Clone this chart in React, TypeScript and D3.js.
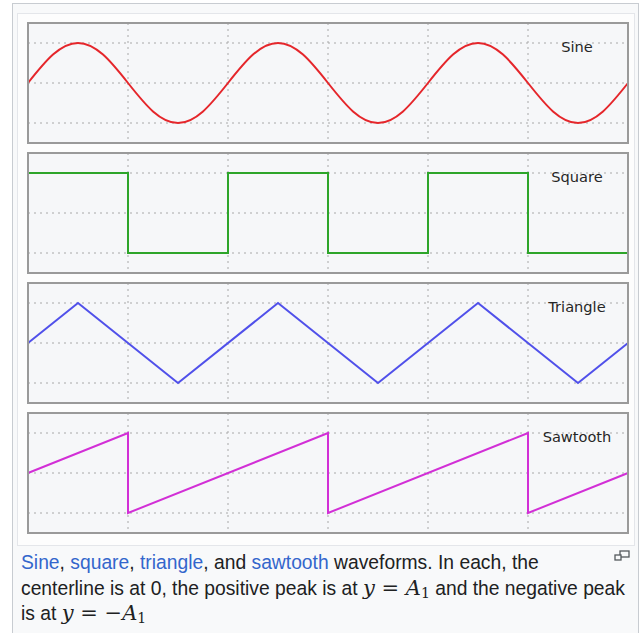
import React from 'react';
import * as d3 from 'd3';

// Time axis in half-period units (0..6), amplitude in units of A1
const sineX = [0, 0.25, 0.5, 0.75, 1, 1.25, 1.5, 1.75, 2, 2.25, 2.5, 2.75, 3, 3.25, 3.5, 3.75, 4, 4.25, 4.5, 4.75, 5, 5.25, 5.5, 5.75, 6];
const sineY = [0, 0.71, 1, 0.71, 0, -0.71, -1, -0.71, 0, 0.71, 1, 0.71, 0, -0.71, -1, -0.71, 0, 0.71, 1, 0.71, 0, -0.71, -1, -0.71, 0];
const squareX = [0, 1, 1, 2, 2, 3, 3, 4, 4, 5, 5, 6];
const squareY = [1, 1, -1, -1, 1, 1, -1, -1, 1, 1, -1, -1];
const triangleX = [0, 0.5, 1.5, 2.5, 3.5, 4.5, 5.5, 6];
const triangleY = [0, 1, -1, 1, -1, 1, -1, 0];
const sawX = [0, 1, 1, 3, 3, 5, 5, 6];
const sawY = [0, 1, -1, 1, -1, 1, -1, 0];

const labels = ['Sine', 'Square', 'Triangle', 'Sawtooth'];
const colors = ['#e5262b', '#2ea52a', '#5050ea', '#d22fd6'];
const xTicks = [1, 2, 3, 4, 5];
const yTicks = [-1, 0, 1];

const series = [
  { xs: sineX, ys: sineY, smooth: true },
  { xs: squareX, ys: squareY, smooth: false },
  { xs: triangleX, ys: triangleY, smooth: false },
  { xs: sawX, ys: sawY, smooth: false },
];

const W = 642, H = 633;
const panelLeft = 28, panelWidth = 600, panelHeight = 120, panelTop0 = 23, panelStep = 130;

export default function App() {
  const x = d3.scaleLinear().domain([0, 6]).range([panelLeft, panelLeft + panelWidth]);
  const linkColor = '#3366cc';
  const textColor = '#202122';
  const mathFont = '"DejaVu Serif", "Liberation Serif", serif';
  const mfs = 21;
  return (
    <svg width={W} height={H} style={{ position: 'absolute', left: 0, top: 0, background: '#ffffff' }}>
      <rect x={12.5} y={3.5} width={626} height={640} fill="#f8f9fa" stroke="#c8ccd1" />
      <rect x={17.5} y={13.5} width={617} height={532} fill="#fdfdfd" stroke="#e4e6ea" />
      {series.map((s, i) => {
        const top = panelTop0 + i * panelStep;
        const y = d3.scaleLinear().domain([-1.5, 1.5]).range([top + panelHeight, top]);
        const pts: [number, number][] = s.xs.map((v, k) => [x(v), y(s.ys[k])]);
        const line = d3.line().curve(s.smooth ? d3.curveNatural : d3.curveLinear);
        return (
          <g key={i}>
            <rect x={panelLeft} y={top} width={panelWidth} height={panelHeight} fill="#f6f7f9" />
            {yTicks.map((t) => (
              <line key={'h' + t} x1={panelLeft} x2={panelLeft + panelWidth} y1={y(t)} y2={y(t)}
                stroke="#a8a8a8" strokeWidth={1} strokeDasharray="2,4" />
            ))}
            {xTicks.map((t) => (
              <line key={'v' + t} x1={x(t)} x2={x(t)} y1={top} y2={top + panelHeight}
                stroke="#a8a8a8" strokeWidth={1} strokeDasharray="2,4" />
            ))}
            <path d={line(pts) || ''} fill="none" stroke={colors[i]} strokeWidth={2} strokeLinejoin="miter" />
            <rect x={panelLeft} y={top} width={panelWidth} height={panelHeight} fill="none" stroke="#9a9a9a" strokeWidth={2} />
            <text x={577} y={top + 28.5} textAnchor="middle" fontFamily='"DejaVu Sans", sans-serif' fontSize={14.6} fill="#262626">
              {labels[i]}
            </text>
          </g>
        );
      })}
      <g fontFamily='"Liberation Sans", Arial, sans-serif' fontSize={19.3} fill={textColor}>
        <text x={21} y={569}>
          <tspan fill={linkColor}>Sine</tspan>, <tspan fill={linkColor}>square</tspan>, <tspan fill={linkColor}>triangle</tspan>, and <tspan fill={linkColor}>sawtooth</tspan> waveforms. In each, the
        </text>
        <text x={21} y={595}>
          centerline is at 0, the positive peak is at{' '}
          <tspan fontFamily={mathFont} fontStyle="italic" fontSize={mfs}>y</tspan>
          <tspan fontFamily={mathFont} fontSize={mfs}> = </tspan>
          <tspan fontFamily={mathFont} fontStyle="italic" fontSize={mfs}>A</tspan>
          <tspan fontFamily={mathFont} fontSize={14} dy={3}>1</tspan>
          <tspan dy={-3}> and the negative peak</tspan>
        </text>
        <text x={21} y={620}>
          is at{' '}
          <tspan fontFamily={mathFont} fontStyle="italic" fontSize={mfs}>y</tspan>
          <tspan fontFamily={mathFont} fontSize={mfs}> = −</tspan>
          <tspan fontFamily={mathFont} fontStyle="italic" fontSize={mfs}>A</tspan>
          <tspan fontFamily={mathFont} fontSize={14} dy={3}>1</tspan>
        </text>
      </g>
      <g fill="none" stroke="#54595d" strokeWidth={1.3}>
        <rect x={620} y={551} width={9} height={6} />
        <rect x={615} y={555} width={6} height={5} fill="#f8f9fa" />
      </g>
    </svg>
  );
}
